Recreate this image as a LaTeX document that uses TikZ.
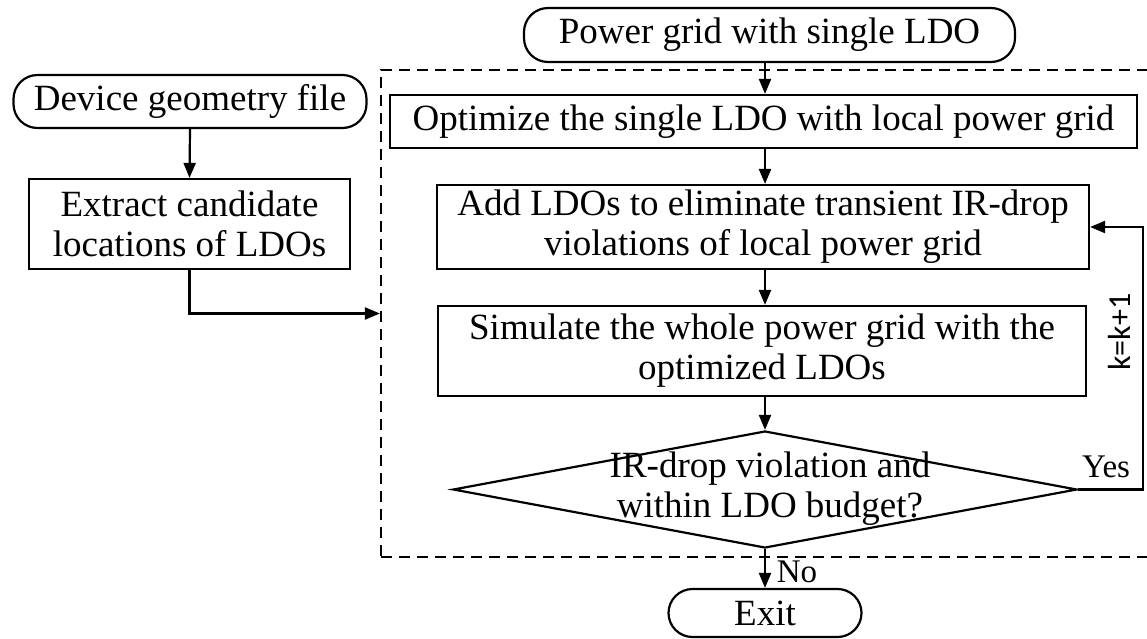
\documentclass[tikz,border=0pt]{standalone}
\usepackage{fontspec}
\setmainfont{Liberation Serif}
\newfontfamily\labelsans{Carlito}
\usetikzlibrary{arrows.meta,shapes.geometric}
\begin{document}
\begin{tikzpicture}[x=1pt,y=-1pt,
  every node/.style={font=\fontsize{37}{40}\selectfont, inner sep=0pt},
  terminal/.style={draw, line width=2.2pt, rounded corners=24pt},
  procbox/.style={draw, line width=2.2pt, align=center},
  decision/.style={draw, line width=2.2pt, diamond},
  frame/.style={draw, line width=2.2pt, dash pattern=on 11pt off 7pt},
  flow/.style={line width=2.2pt, -{Triangle[length=15pt,width=12pt]}},
  lbl/.style={font=\fontsize{33}{36}\selectfont},
]
\useasboundingbox (0,0) rectangle (1147,638);
\clip (0,0) rectangle (1147,638);
\fill[white] (0,0) rectangle (1147,638);

% dashed loop region
\node[frame, minimum width=779pt, minimum height=487pt] (loop) at (770.5,313.5) {};

% vertical spine of the main flow and the return path
\coordinate (spine) at (765,0);
\coordinate (back) at (1143,0);

% main flow
\node[terminal, minimum width=491pt, minimum height=54pt] (pg) at (769.5,35) {Power grid with single LDO};
\node[procbox, minimum width=747pt, minimum height=53pt] (opt) at (763.5,121.5) {Optimize the single LDO with local power grid};
\node[procbox, minimum width=652pt, minimum height=84pt] (add) at (763,227) {Add LDOs to eliminate transient IR-drop\\violations of local power grid};
\node[procbox, minimum width=648pt, minimum height=90pt] (sim) at (762,351) {Simulate the whole power grid with the\\optimized LDOs};
\node[decision, minimum width=624pt, minimum height=117pt] (dec) at (765,489.5) {};
\node[align=center] (dectext) at (770,489) {IR-drop violation and\\within LDO budget?};
\node[terminal, minimum width=193pt, minimum height=48pt] (exit) at (765,613) {Exit};

% left branch
\node[terminal, minimum width=353pt, minimum height=53pt] (dev) at (190,101.5) {Device geometry file};
\node[procbox, minimum width=321pt, minimum height=90pt] (ext) at (189.5,224) {Extract candidate\\locations of LDOs};

% connectors
\draw[flow] (spine |- pg.south) -- (spine |- opt.north);
\draw[flow] (spine |- opt.south) -- (spine |- add.north);
\draw[flow] (spine |- add.south) -- (spine |- sim.north);
\draw[flow] (spine |- sim.south) -- (dec.north);
\draw[flow] (dec.south) -- (spine |- exit.north);
\draw[flow] (dev.south) -- (ext.north);
\draw[flow] (ext.south) |- (loop.west);
\draw[flow] (dec.east) -- (dec.east -| back) -- (back |- add.east) -- (add.east);

% labels
\node[lbl] (yes) at (1106,467) {Yes};
\node[lbl] (no) at (797,572) {No};
\node[font=\labelsans\fontsize{32}{34}\selectfont, rotate=90] (inc) at (1119,332) {k=k+1};
\end{tikzpicture}
\end{document}
